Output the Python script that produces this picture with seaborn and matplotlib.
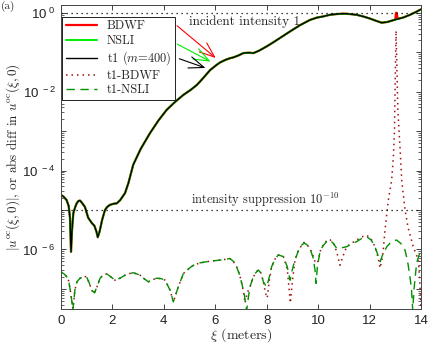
import numpy as np
import matplotlib
matplotlib.use("Agg")
import matplotlib.pyplot as plt
import seaborn as sns

# main field |u_oc(xi,0)| for t1 (m=400), log10 values
t1_xi = [0.0, 0.1, 0.22, 0.3, 0.35, 0.39, 0.43, 0.48, 0.55, 0.61, 0.68, 0.74, 0.82, 0.93,
         1.06, 1.2, 1.3, 1.38, 1.43, 1.5, 1.6, 1.71, 1.8, 1.9, 2.05, 2.17, 2.3, 2.49, 2.62,
         2.81, 3.1, 3.46, 3.8, 4.11, 4.45, 4.76, 5.05, 5.28, 5.41, 5.6, 5.8, 6.05, 6.18, 6.4,
         6.57, 6.7, 6.9, 7.09, 7.3, 7.48, 7.7, 8.0, 8.2, 8.39, 8.65, 8.91, 9.3, 9.68, 9.95,
         10.2, 10.45, 10.72, 11.0, 11.24, 11.5, 11.75, 12.0, 12.25, 12.47, 12.7, 12.9, 13.06,
         13.3, 13.57, 13.8, 14.0]
t1_log = [-4.62, -4.66, -4.75, -4.9, -5.2, -6.06, -5.5, -5.08, -4.93, -4.83, -4.77, -4.76,
          -4.82, -4.92, -5.2, -5.33, -5.4, -5.55, -5.69, -5.55, -5.25, -5.0, -4.92, -4.87,
          -4.84, -4.83, -4.75, -4.57, -4.32, -3.85, -3.45, -3.05, -2.72, -2.46, -2.25, -2.08,
          -1.95, -1.83, -1.74, -1.6, -1.45, -1.32, -1.26, -1.19, -1.15, -1.13, -1.08, -1.02,
          -1.01, -1.02, -0.96, -0.85, -0.77, -0.69, -0.58, -0.47, -0.31, -0.18, -0.12, -0.09,
          -0.05, -0.03, -0.02, -0.03, -0.05, -0.09, -0.14, -0.2, -0.25, -0.23, -0.19, -0.16,
          -0.12, -0.05, 0.02, 0.09]

# BDWF deviates from t1 only in a narrow blip near xi = 13.05
bdwf_xi = [12.47, 12.7, 12.9, 13.0, 13.03, 13.06, 13.09, 13.3, 13.57, 14.0]
bdwf_log = [-0.25, -0.23, -0.19, -0.17, 0.0, 0.0, -0.15, -0.12, -0.05, 0.09]

# |t1 - NSLI|
nsli_diff_xi = [0.0, 0.12, 0.22, 0.3, 0.36, 0.42, 0.46, 0.5, 0.54, 0.62, 0.74, 0.88, 0.99,
                1.1, 1.19, 1.3, 1.4, 1.52, 1.65, 1.78, 1.95, 2.1, 2.29, 2.55, 2.81, 3.07,
                3.25, 3.4, 3.55, 3.72, 3.9, 4.05, 4.24, 4.37, 4.46, 4.56, 4.76, 5.0, 5.15,
                5.41, 5.67, 5.9, 6.18, 6.4, 6.57, 6.7, 6.83, 6.95, 7.03, 7.13, 7.22, 7.29,
                7.35, 7.45, 7.55, 7.67, 7.78, 7.87, 8.0, 8.1, 8.19, 8.32, 8.45, 8.65, 8.8,
                8.91, 9.0, 9.1, 9.22, 9.36, 9.45, 9.55, 9.68, 9.8, 9.88, 9.92, 9.97, 10.07,
                10.2, 10.33, 10.45, 10.6, 10.72, 10.9, 11.11, 11.3, 11.5, 11.7, 11.89, 12.05,
                12.21, 12.33, 12.41, 12.5, 12.67, 12.85, 13.05, 13.22, 13.38, 13.48, 13.57,
                13.63, 13.68, 13.73, 13.83, 13.92, 14.0]
nsli_diff_log = [-6.57, -6.62, -6.69, -6.8, -7.03, -7.3, -7.55, -7.3, -7.03, -6.82, -6.73,
                 -6.69, -6.69, -6.85, -7.03, -7.1, -6.95, -6.73, -6.64, -6.62, -6.7, -6.78,
                 -6.73, -6.63, -6.59, -6.65, -6.75, -6.82, -6.77, -6.73, -6.74, -6.78,
                 -7.03, -7.33, -7.15, -6.95, -6.61, -6.47, -6.4, -6.34, -6.31, -6.29, -6.27,
                 -6.25, -6.23, -6.3, -6.44, -6.65, -6.86, -7.15, -7.55, -7.2, -6.95, -6.75,
                 -6.61, -6.52, -6.6, -6.82, -6.95, -6.7, -6.44, -6.25, -6.14, -6.18, -6.44,
                 -6.78, -6.5, -6.27, -6.05, -5.89, -5.84, -5.87, -5.97, -6.2, -6.52, -6.86,
                 -6.45, -6.06, -5.9, -5.8, -5.76, -5.85, -5.97, -5.96, -5.93, -5.86, -5.8,
                 -5.72, -5.68, -5.75, -5.93, -6.15, -6.31, -6.15, -5.93, -5.8, -5.76, -5.85,
                 -6.02, -6.3, -6.69, -7.0, -7.55, -7.0, -6.35, -6.15, -6.06]

# |t1 - BDWF|
bdwf_diff_xi = [0.0, 0.12, 0.22, 0.3, 0.36, 0.42, 0.46, 0.5, 0.54, 0.62, 0.74, 0.88, 0.99,
                1.1, 1.19, 1.3, 1.4, 1.52, 1.65, 1.78, 1.95, 2.1, 2.29, 2.55, 2.81, 3.07,
                3.25, 3.4, 3.55, 3.72, 3.9, 4.05, 4.24, 4.37, 4.46, 4.56, 4.76, 5.0, 5.15,
                5.41, 5.67, 5.9, 6.18, 6.4, 6.57, 6.7, 6.83, 6.95, 7.03, 7.1, 7.16, 7.24,
                7.35, 7.45, 7.55, 7.67, 7.78, 7.87, 7.95, 8.02, 8.1, 8.19, 8.32, 8.45, 8.65,
                8.8, 8.87, 8.92, 9.0, 9.1, 9.22, 9.36, 9.45, 9.55, 9.68, 9.8, 9.9, 10.0,
                10.1, 10.2, 10.33, 10.45, 10.6, 10.72, 10.85, 10.95, 11.11, 11.3, 11.5,
                11.7, 11.89, 12.05, 12.21, 12.33, 12.41, 12.51, 12.6, 12.73, 12.86, 12.93,
                12.97, 13.0, 13.03, 13.06, 13.1, 13.19, 13.25, 13.38, 13.5, 13.7, 13.9,
                13.96, 14.0]
bdwf_diff_log = [-6.57, -6.62, -6.69, -6.8, -7.03, -7.3, -7.5, -7.3, -7.03, -6.82, -6.73,
                 -6.69, -6.69, -6.85, -7.03, -7.12, -6.95, -6.73, -6.64, -6.62, -6.7, -6.78,
                 -6.73, -6.63, -6.59, -6.65, -6.75, -6.82, -6.77, -6.73, -6.74, -6.78,
                 -7.03, -7.33, -7.15, -6.95, -6.61, -6.47, -6.4, -6.34, -6.31, -6.29, -6.27,
                 -6.25, -6.23, -6.3, -6.44, -6.65, -6.86, -7.1, -7.36, -7.1, -6.95, -6.75,
                 -6.61, -6.52, -6.6, -6.82, -7.1, -7.23, -6.8, -6.44, -6.25, -6.14, -6.18,
                 -6.5, -7.0, -7.36, -6.8, -6.27, -6.05, -5.89, -5.82, -5.87, -5.97, -6.15,
                 -6.35, -6.3, -6.0, -5.88, -5.78, -5.74, -5.85, -6.05, -6.4, -6.2, -5.93,
                 -5.84, -5.76, -5.68, -5.64, -5.72, -5.93, -6.2, -6.47, -6.18, -5.51, -4.75,
                 -4.24, -3.6, -2.97, -1.6, -0.45, -1.3, -2.46, -3.48, -4.24, -5.0, -5.45,
                 -5.93, -6.27, -6.9, -7.5]

x_ticks = [0, 2, 4, 6, 8, 10, 12, 14]
y_tick_exps = [0, -2, -4, -6]

sns.set_theme(style="ticks")
plt.rcParams.update({
    "font.family": "serif",
    "font.serif": ["cmr10", "DejaVu Serif"],
    "mathtext.fontset": "cm",
    "axes.formatter.use_mathtext": True,
    "axes.edgecolor": "#444444",
    "axes.linewidth": 0.7,
    "xtick.direction": "in",
    "ytick.direction": "in",
    "xtick.top": True,
    "ytick.right": True,
})

fig = plt.figure(figsize=(4.28, 3.47), dpi=100)
ax = fig.add_axes([0.1425, 0.1095, 0.8411, 0.8761])

red = "#ff0000"
lime = "#00ee00"
dred = "#a01010"
dgreen = "#009000"

# BDWF and NSLI are drawn under t1 (they overlap it almost everywhere)
bdwf_full_xi = [x for x in t1_xi if x < 12.47] + bdwf_xi
bdwf_full_log = [v for x, v in zip(t1_xi, t1_log) if x < 12.47] + bdwf_log
sns.lineplot(x=bdwf_full_xi, y=10.0 ** np.array(bdwf_full_log), ax=ax, color=red,
             lw=1.6, label="BDWF", estimator=None, sort=False)
sns.lineplot(x=t1_xi, y=10.0 ** np.array(t1_log), ax=ax, color=lime, lw=1.4,
             label="NSLI", estimator=None, sort=False)
sns.lineplot(x=t1_xi, y=10.0 ** np.array(t1_log), ax=ax, color="black", lw=1.0,
             label="t1 ($m$=400)", estimator=None, sort=False)
sns.lineplot(x=bdwf_diff_xi, y=10.0 ** np.array(bdwf_diff_log), ax=ax, color=dred,
             lw=1.1, linestyle=(0, (1, 2.6)), label="t1-BDWF", estimator=None, sort=False)
sns.lineplot(x=nsli_diff_xi, y=10.0 ** np.array(nsli_diff_log), ax=ax, color=dgreen,
             lw=1.0, linestyle=(0, (6, 4)), label="t1-NSLI", estimator=None, sort=False)

# reference levels
ax.axhline(1.0, color="black", lw=0.9, linestyle=(0, (1, 3)))
ax.axhline(1e-5, color="black", lw=0.9, linestyle=(0, (1, 3)))
ax.text(7.15, 0.6, "incident intensity 1", ha="center", va="center", fontsize=9.5)
ax.text(7.95, 1.75e-5, "intensity suppression $10^{-10}$", ha="center", va="center",
        fontsize=9)

ax.set_yscale("log")
ax.set_xlim(0, 14)
ax.set_ylim(10 ** -7.51, 10 ** 0.2)
ax.set_xticks(x_ticks)
ax.set_xticklabels([str(t) for t in x_ticks], family="Liberation Sans", fontsize=9.5)
ax.yaxis.set_major_locator(matplotlib.ticker.FixedLocator([10.0 ** e for e in range(-7, 1)]))
ax.yaxis.set_major_formatter(matplotlib.ticker.FuncFormatter(
    lambda v, p: ("$\\mathregular{10^{\\ %d}}$" % round(np.log10(v)))
    if round(np.log10(v)) in y_tick_exps else ""))
ax.yaxis.set_minor_locator(matplotlib.ticker.LogLocator(base=10, subs=np.arange(2, 10)))
ax.yaxis.set_minor_formatter(matplotlib.ticker.NullFormatter())
for lab in ax.get_yticklabels():
    lab.set_family("Liberation Sans")
    lab.set_fontsize(9.5)
ax.tick_params(which="major", length=3.5, width=0.6, colors="#222222", pad=4)
ax.tick_params(which="minor", length=2, width=0.5)

ax.set_xlabel("$\\xi$ (meters)", fontsize=10, labelpad=0)
ax.set_ylabel("$|u^{\\rm oc}(\\xi,0)|$, or abs diff in $u^{\\rm oc}(\\xi,0)$",
              fontsize=9.5, labelpad=0)

# arrows from legend entries to the overlapping curves
ax.annotate("", xy=(6.1, 10 ** -1.19), xytext=(4.43, 10 ** -0.28),
            arrowprops=dict(arrowstyle="->,head_length=0.9,head_width=0.35", color=red, lw=0.8))
ax.annotate("", xy=(5.91, 10 ** -1.27), xytext=(4.43, 10 ** -0.76),
            arrowprops=dict(arrowstyle="->,head_length=0.9,head_width=0.35", color=lime, lw=0.8))
ax.annotate("", xy=(5.72, 10 ** -1.42), xytext=(4.5, 10 ** -1.14),
            arrowprops=dict(arrowstyle="->,head_length=0.9,head_width=0.35", color="black", lw=0.8))

leg = ax.legend(loc="upper left", bbox_to_anchor=(0.004, 0.962), borderaxespad=0,
                fancybox=False, framealpha=1, edgecolor="#222222", fontsize=8.9,
                handlelength=2.5, handletextpad=0.8, labelspacing=0.2, borderpad=0.3)
leg.get_frame().set_linewidth(0.7)

fig.text(0.002, 0.998, "(a)", fontsize=8, ha="left", va="top")

fig.savefig("out.png", dpi=100)
